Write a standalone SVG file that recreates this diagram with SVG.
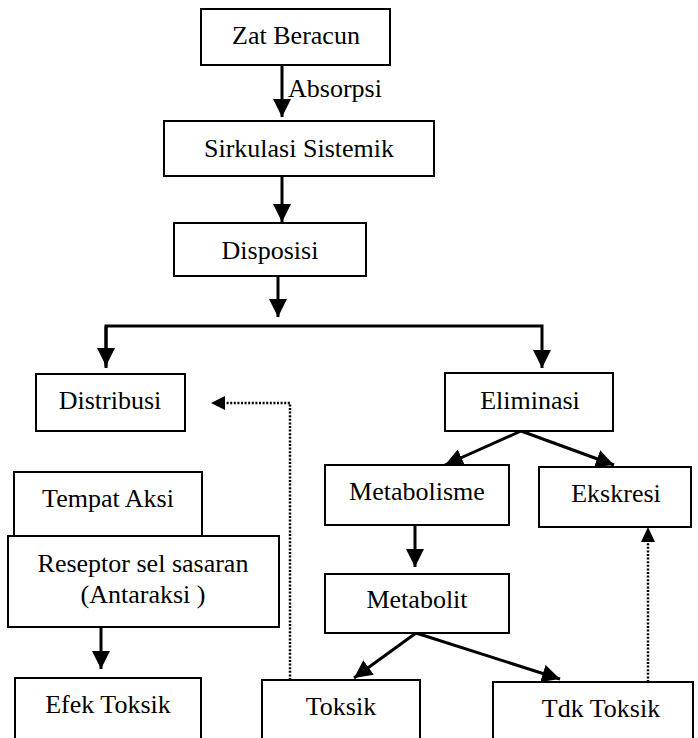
<svg xmlns="http://www.w3.org/2000/svg" width="698" height="738" viewBox="0 0 698 738" font-family="Liberation Serif, Times New Roman, serif">
<style>
.box{fill:#fff;stroke:#000;stroke-width:2}
.t{font-size:26px;fill:#000;text-anchor:middle}
.c{fill:none;stroke:#000;stroke-width:3}
.d{fill:none;stroke:#000;stroke-width:2.5;stroke-dasharray:2 1.6}
</style>
<defs>
<marker id="ah" viewBox="0 0 18 18" refX="18" refY="9" markerWidth="18" markerHeight="18" markerUnits="userSpaceOnUse" orient="auto">
<path d="M0,0 L18,9 L0,18 z" fill="#000"/>
</marker>
</defs>
<rect width="698" height="738" fill="#fff"/>
<g id="connectors">
<line class="c" x1="282" y1="65" x2="282" y2="117" marker-end="url(#ah)"/>
<line class="c" x1="282" y1="176" x2="282" y2="222" marker-end="url(#ah)"/>
<line class="c" x1="278" y1="276" x2="278" y2="317" marker-end="url(#ah)"/>
<polyline class="c" points="106,368 106,326 542,326 542,368" marker-end="url(#ah)"/>
<line class="c" x1="106" y1="326" x2="106" y2="366" marker-end="url(#ah)"/>
<line class="c" x1="521" y1="431" x2="445" y2="465" marker-end="url(#ah)"/>
<line class="c" x1="521" y1="431" x2="614" y2="465" marker-end="url(#ah)"/>
<line class="c" x1="415" y1="525" x2="415" y2="567" marker-end="url(#ah)"/>
<line class="c" x1="416" y1="633" x2="354" y2="678" marker-end="url(#ah)"/>
<line class="c" x1="416" y1="633" x2="560" y2="679" marker-end="url(#ah)"/>
<line class="c" x1="101" y1="627" x2="101" y2="669" marker-end="url(#ah)"/>
<polyline class="d" points="290,680 290,403 222,403"/>
<path d="M225,396 L211,403 L225,410 z" fill="#000"/>
<line class="d" x1="648" y1="682" x2="648" y2="542"/>
<path d="M641,542 L648,527 L655,542 z" fill="#000"/>
</g>
<text class="t" x="288" y="97" font-family="Liberation Serif" style="text-anchor:start">Absorpsi</text>
<g id="zat-beracun" font-family="Liberation Serif"><rect class="box" x="201" y="9" width="189" height="56"/><text class="t" x="296" y="44">Zat Beracun</text></g>
<g id="sirkulasi-sistemik" font-family="Liberation Serif"><rect class="box" x="164" y="121" width="270" height="55"/><text class="t" x="299" y="157">Sirkulasi Sistemik</text></g>
<g id="disposisi" font-family="Liberation Serif"><rect class="box" x="174" y="223" width="192" height="53"/><text class="t" x="270" y="259">Disposisi</text></g>
<g id="distribusi" font-family="Liberation Serif"><rect class="box" x="36" y="374" width="149" height="57"/><text class="t" x="110" y="409">Distribusi</text></g>
<g id="eliminasi" font-family="Liberation Serif"><rect class="box" x="445" y="373" width="168" height="58"/><text class="t" x="530" y="409">Eliminasi</text></g>
<g id="metabolisme" font-family="Liberation Serif"><rect class="box" x="325" y="465" width="184" height="60"/><text class="t" x="417" y="500">Metabolisme</text></g>
<g id="ekskresi" font-family="Liberation Serif"><rect class="box" x="539" y="467" width="152" height="60"/><text class="t" x="616" y="502">Ekskresi</text></g>
<g id="metabolit" font-family="Liberation Serif"><rect class="box" x="325" y="574" width="184" height="59"/><text class="t" x="417" y="608">Metabolit</text></g>
<g id="tempat-aksi" font-family="Liberation Serif"><rect class="box" x="14" y="472" width="188" height="64"/><text class="t" x="108" y="507">Tempat Aksi</text></g>
<g id="reseptor" font-family="Liberation Serif"><rect class="box" x="8" y="536" width="271" height="91"/><text class="t" x="143" y="572">Reseptor sel sasaran</text><text class="t" x="143" y="603">(Antaraksi )</text></g>
<g id="efek-toksik" font-family="Liberation Serif"><rect class="box" x="15" y="678" width="186" height="80"/><text class="t" x="108" y="713">Efek Toksik</text></g>
<g id="toksik" font-family="Liberation Serif"><rect class="box" x="262" y="680" width="158" height="80"/><text class="t" x="341" y="715">Toksik</text></g>
<g id="tdk-toksik" font-family="Liberation Serif"><rect class="box" x="493" y="682" width="200" height="80"/><text class="t" x="601" y="717">Tdk Toksik</text></g>
</svg>
